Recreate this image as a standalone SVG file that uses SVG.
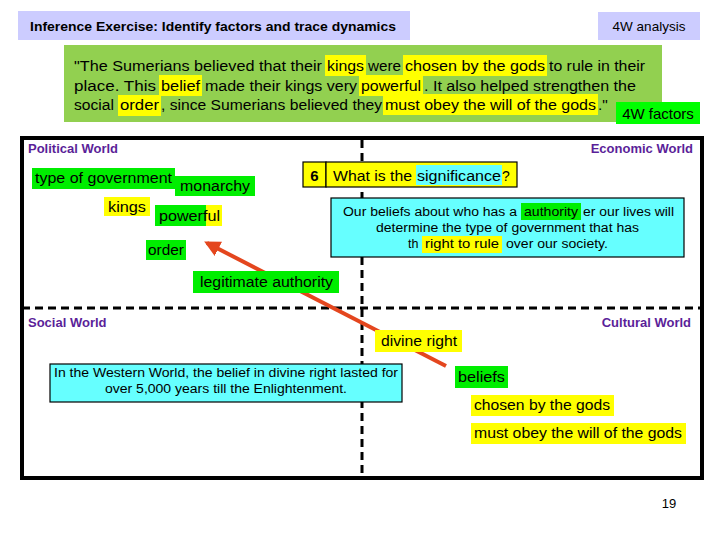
<svg xmlns="http://www.w3.org/2000/svg" width="720" height="540" viewBox="0 0 720 540">
<defs>
<style>
text{font-family:"Liberation Sans",Arial,sans-serif;fill:#000}
.ti{font-size:13.5px;font-weight:bold}
.q{font-size:15.5px}
.w{font-size:13px;font-weight:bold;fill:#5b1f99}
.t{font-size:14px}
.s{font-size:12.5px}
.y{fill:#ffff00}
.g{fill:#00ee00}
.c{fill:#66ffff;stroke:#000;stroke-width:1.2}
</style>
<marker id="ah" viewBox="0 0 10 10" refX="8" refY="5" markerWidth="4" markerHeight="4" orient="auto">
<path d="M0,0 L10,5 L0,10 Z" fill="#e4461e"/>
</marker>
</defs>
<rect width="720" height="540" fill="#fff"/>

<g id="title">
<rect x="18" y="11" width="392" height="29" fill="#ccccff"/>
<text class="ti" x="30" y="31" textLength="366" lengthAdjust="spacingAndGlyphs">Inference Exercise: Identify factors and trace dynamics</text>
</g>
<g id="analysis">
<rect x="598" y="12" width="102" height="28" fill="#ccccff"/>
<text x="649" y="31" text-anchor="middle" style="font-size:13.5px">4W analysis</text>
</g>

<g id="quote">
<rect x="64" y="45" width="598" height="77" fill="#92d050"/>
<rect class="y" x="325" y="55" width="41" height="21"/>
<rect class="y" x="403" y="55" width="144" height="21"/>
<rect class="y" x="159" y="75" width="43" height="21"/>
<rect class="y" x="359" y="75" width="64" height="21"/>
<rect class="y" x="118" y="95" width="43" height="21"/>
<rect class="y" x="383" y="94" width="215" height="21"/>
<text class="q" x="74" y="71" textLength="248" lengthAdjust="spacingAndGlyphs">"The Sumerians believed that their</text>
<text class="q" x="327" y="71" textLength="37" lengthAdjust="spacingAndGlyphs">kings</text>
<text class="q" x="368" y="71" textLength="33" lengthAdjust="spacingAndGlyphs">were</text>
<text class="q" x="405" y="71" textLength="140" lengthAdjust="spacingAndGlyphs">chosen by the gods</text>
<text class="q" x="549" y="71" textLength="96" lengthAdjust="spacingAndGlyphs">to rule in their</text>
<text class="q" x="74" y="91" textLength="82" lengthAdjust="spacingAndGlyphs">place.  This</text>
<text class="q" x="161" y="91" textLength="39" lengthAdjust="spacingAndGlyphs">belief</text>
<text class="q" x="205" y="91" textLength="152" lengthAdjust="spacingAndGlyphs">made their kings very</text>
<text class="q" x="361" y="91" textLength="60" lengthAdjust="spacingAndGlyphs">powerful</text>
<text class="q" x="424" y="91" textLength="212" lengthAdjust="spacingAndGlyphs">.  It also helped strengthen the</text>
<text class="q" x="74" y="110" textLength="40" lengthAdjust="spacingAndGlyphs">social</text>
<text class="q" x="120" y="110" textLength="39" lengthAdjust="spacingAndGlyphs">order</text>
<text class="q" x="161" y="110" textLength="221" lengthAdjust="spacingAndGlyphs">, since Sumerians believed they</text>
<text class="q" x="385" y="110" textLength="211" lengthAdjust="spacingAndGlyphs">must obey the will of the gods</text>
<text class="q" x="598" y="110">."</text>
</g>
<g id="factors">
<rect x="616" y="102" width="84" height="22" fill="#00ff00"/>
<text x="658" y="119" text-anchor="middle" style="font-size:15px">4W factors</text>
</g>

<g id="frame">
<line x1="22" y1="308" x2="702" y2="308" stroke="#000" stroke-width="3" stroke-dasharray="8,5"/>
<line x1="362" y1="140" x2="362" y2="476" stroke="#000" stroke-width="3" stroke-dasharray="8,5"/>
<rect x="22" y="138" width="680" height="340" fill="none" stroke="#000" stroke-width="4"/>
<text class="w" x="28" y="153">Political World</text>
<text class="w" x="693" y="153" text-anchor="end">Economic World</text>
<text class="w" x="28" y="327">Social World</text>
<text class="w" x="691" y="327" text-anchor="end">Cultural World</text>
</g>

<g id="type-of-government">
<rect class="g" x="32" y="168" width="143" height="21"/>
<text class="t" x="35" y="183" textLength="137" lengthAdjust="spacingAndGlyphs">type of government</text>
</g>
<g id="monarchy">
<rect class="g" x="175" y="176" width="80" height="20"/>
<text class="t" x="180" y="191" textLength="70" lengthAdjust="spacingAndGlyphs">monarchy</text>
</g>
<g id="kings">
<rect class="y" x="104" y="197" width="46" height="19"/>
<text x="108" y="212" style="font-size:15.5px" textLength="38" lengthAdjust="spacingAndGlyphs">kings</text>
</g>
<g id="powerful">
<rect class="g" x="155" y="205" width="51" height="21"/>
<rect class="y" x="206" y="205" width="16" height="21"/>
<text class="t" x="159" y="221" textLength="61" lengthAdjust="spacingAndGlyphs">powerful</text>
</g>
<g id="order">
<rect class="g" x="146" y="240" width="40" height="20"/>
<text class="t" x="148" y="255" textLength="36" lengthAdjust="spacingAndGlyphs">order</text>
</g>

<g id="connectors">
<line x1="446" y1="366" x2="207" y2="243" stroke="#e4461e" stroke-width="4" marker-end="url(#ah)"/>
</g>

<g id="legitimate-authority">
<rect class="g" x="193" y="271" width="146" height="22"/>
<text class="t" x="200" y="287" textLength="133" lengthAdjust="spacingAndGlyphs">legitimate authority</text>
</g>

<g id="question">
<rect x="303" y="162" width="23" height="25" fill="#ffff00" stroke="#000" stroke-width="1.2"/>
<rect x="326" y="162" width="191" height="25" fill="#ffff00" stroke="#000" stroke-width="1.2"/>
<rect x="416" y="165" width="86" height="20" fill="#66ffff"/>
<text x="314.5" y="181" text-anchor="middle" style="font-size:15px;font-weight:bold">6</text>
<text class="t" x="333" y="181" textLength="79" lengthAdjust="spacingAndGlyphs">What is the</text>
<text class="t" x="417" y="181" textLength="84" lengthAdjust="spacingAndGlyphs">significance</text>
<text class="t" x="502" y="181">?</text>
</g>

<g id="significance-answer">
<rect class="c" x="331" y="198" width="353" height="59"/>
<rect class="g" x="521" y="203" width="60" height="17"/>
<rect class="y" x="422" y="236" width="80" height="17"/>
<text class="s" x="343" y="216" textLength="174" lengthAdjust="spacingAndGlyphs">Our beliefs about who has a</text>
<text class="s" x="524" y="216" textLength="54" lengthAdjust="spacingAndGlyphs">authority</text>
<text class="s" x="583" y="216" textLength="91" lengthAdjust="spacingAndGlyphs">er our lives will</text>
<text class="s" x="376" y="232" textLength="263" lengthAdjust="spacingAndGlyphs">determine the type of government that has</text>
<text class="s" x="408" y="248">th</text>
<text class="s" x="425" y="248" textLength="74" lengthAdjust="spacingAndGlyphs">right to rule</text>
<text class="s" x="506" y="248" textLength="102" lengthAdjust="spacingAndGlyphs">over our society.</text>
</g>

<g id="divine-right">
<rect class="y" x="375" y="330" width="87" height="22"/>
<text class="t" x="381" y="346" textLength="76" lengthAdjust="spacingAndGlyphs">divine right</text>
</g>

<g id="western-world">
<rect class="c" x="50" y="364" width="352" height="38"/>
<text class="s" x="226" y="377" text-anchor="middle" textLength="344" lengthAdjust="spacingAndGlyphs">In the Western World, the belief in divine right lasted for</text>
<text class="s" x="226" y="393" text-anchor="middle" textLength="242" lengthAdjust="spacingAndGlyphs">over 5,000 years till the Enlightenment.</text>
</g>

<g id="beliefs">
<rect class="g" x="455" y="366" width="53" height="22"/>
<text x="458" y="382" style="font-size:14.5px" textLength="47" lengthAdjust="spacingAndGlyphs">beliefs</text>
</g>
<g id="chosen-by-the-gods">
<rect class="y" x="471" y="395" width="143" height="21"/>
<text class="t" x="474" y="410" textLength="136" lengthAdjust="spacingAndGlyphs">chosen by the gods</text>
</g>
<g id="must-obey">
<rect class="y" x="471" y="423" width="215" height="21"/>
<text class="t" x="474" y="438" textLength="208" lengthAdjust="spacingAndGlyphs">must obey the will of the gods</text>
</g>

<text x="669" y="508" text-anchor="middle" style="font-size:13px">19</text>
</svg>
